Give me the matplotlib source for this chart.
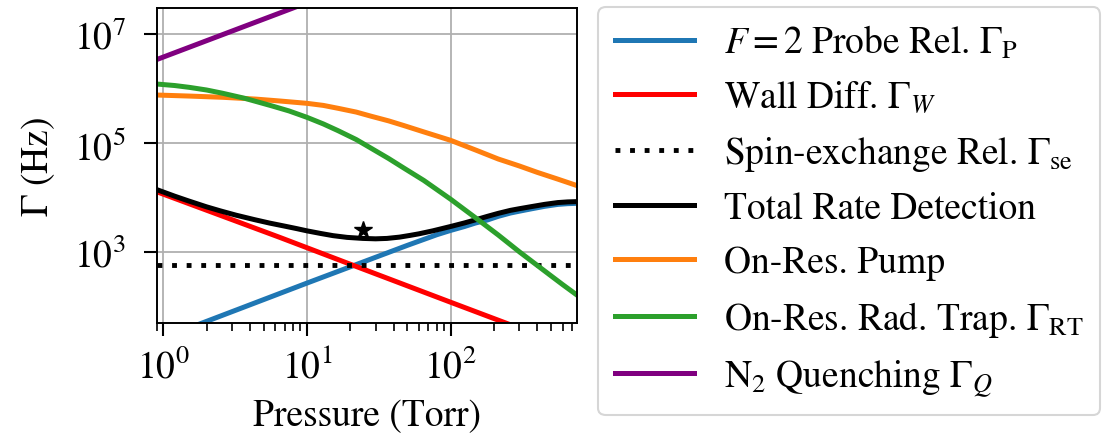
import numpy as np
import matplotlib
matplotlib.use('Agg')
import matplotlib.pyplot as plt

plt.rcParams['font.family'] = 'serif'
plt.rcParams['font.serif'] = ['STIXGeneral', 'Liberation Serif', 'DejaVu Serif']
plt.rcParams['mathtext.fontset'] = 'stix'
plt.rcParams['font.size'] = 27

# values (pressure in Torr, rate in Hz)
probe_p = [0.9, 10, 50, 80, 100, 125, 148, 180, 214, 260, 300, 364, 450, 556, 650, 760]
probe_g = [24, 270, 1330, 2080, 2500, 2950, 3400, 3880, 4520, 5200, 5620, 6210,
           6900, 7490, 7725, 7840]

wall_p = [0.9, 6.5, 20.3, 100, 760]
wall_g = [12800, 1850, 590, 120, 16]

se_p = [0.9, 760]
se_g = [577, 577]

total_p = [0.9, 1.2, 1.5, 2, 2.5, 3.2, 4.3, 5.5, 7, 8.5, 10, 12.5, 15.2, 19, 24.5,
           30, 36, 44, 52, 60, 75, 100, 125, 148, 180, 214, 260, 300, 364, 450,
           556, 650, 760]
total_g = [14000, 10600, 8670, 6760, 5690, 4760, 3940, 3400, 2990, 2690, 2450,
           2190, 2000, 1860, 1780, 1750, 1780, 1880, 2020, 2160, 2450, 2950, 3430,
           3890, 4520, 5130, 5820, 6240, 6820, 7500, 8090, 8320, 8430]

pump_p = [0.9, 1.5, 2.6, 4.4, 6.5, 10, 13, 16.5, 22, 28, 37, 47, 65, 100, 150,
          214, 300, 400, 550, 760]
pump_g = [7.6e5, 7.28e5, 6.9e5, 6.4e5, 5.9e5, 5.35e5, 4.9e5, 4.33e5, 3.7e5, 3.1e5,
          2.55e5, 2.1e5, 1.6e5, 1.12e5, 7.4e4, 5.1e4, 3.8e4, 2.9e4, 2.2e4, 1.65e4]

trap_p = [0.9, 1.2, 1.52, 2, 2.58, 3.7, 5.7, 7.5, 10, 13, 16.5, 22, 28, 37, 47, 65,
          100, 148, 214, 302, 400, 500, 600, 760]
trap_g = [1.21e6, 1.135e6, 1.05e6, 9.4e5, 8.2e5, 6.6e5, 4.8e5, 3.88e5, 2.96e5,
          2.24e5, 1.68e5, 1.16e5, 8.0e4, 5.2e4, 3.5e4, 2.06e4, 9.3e3, 4.3e3,
          2.06e3, 1.0e3, 570, 365, 254, 161]

quench_p = [0.9, 10]
quench_g = [3.4e6, 3.75e7]

opt_p = [24.5]
opt_g = [2500]

labels = [r'$F=2$ Probe Rel. $\Gamma_{\rm P}$',
          r'Wall Diff. $\Gamma_W$',
          r'Spin-exchange Rel. $\Gamma_{\rm se}$',
          'Total Rate Detection',
          'On-Res. Pump',
          r'On-Res. Rad. Trap. $\Gamma_{\rm RT}$',
          r'N$_2$ Quenching $\Gamma_Q$']

fig = plt.figure(figsize=(11.12, 4.35), dpi=100)
ax = fig.add_axes([156.7/1112, 1-324/435, (577.3-156.7)/1112, (324-9)/435])

lw = 3.6
kw = dict(lw=lw, solid_joinstyle='round')
ax.plot(probe_p, probe_g, color='#1f77b4', label=labels[0], **kw)
ax.plot(wall_p, wall_g, color='red', label=labels[1], **kw)
ax.plot(se_p, se_g, color='black', lw=3.5, ls=(0, (1, 2)), label=labels[2])
ax.plot(total_p, total_g, color='black', label=labels[3], **kw)
ax.plot(pump_p, pump_g, color='#ff7f0e', label=labels[4], **kw)
ax.plot(trap_p, trap_g, color='#2ca02c', label=labels[5], **kw)
ax.plot(quench_p, quench_g, color='purple', label=labels[6], **kw)
ax.plot(opt_p, opt_g, marker='*', color='black', ms=13, ls='none')

ax.set_xscale('log')
ax.set_yscale('log')
ax.set_xlim(0.9, 760)
ax.set_ylim(50, 3e7)
ax.set_yticks([1e3, 1e5, 1e7])
ax.yaxis.set_minor_locator(matplotlib.ticker.NullLocator())
ax.grid(True, which='major', color='#b0b0b0', lw=1.3)
ax.set_axisbelow(True)

for s in ax.spines.values():
    s.set_linewidth(1.4)
ax.tick_params(which='major', length=9.5, width=1.5)
ax.tick_params(which='minor', length=5.8, width=1.2)
ax.tick_params(axis='x', which='major', pad=9)
ax.tick_params(axis='y', which='major', pad=13)

ax.set_xlabel('Pressure (Torr)', labelpad=9)
ax.set_ylabel(r'$\Gamma$ (Hz)', labelpad=12)

leg = ax.legend(loc='upper left', bbox_to_anchor=(598/1112, 1-8/435),
                bbox_transform=fig.transFigure, borderaxespad=0,
                handlelength=2.1, handletextpad=0.8, labelspacing=0.5,
                borderpad=0.45, fancybox=True)
leg.get_frame().set_linewidth(1.5)

fig.savefig('out.png', dpi=100)
